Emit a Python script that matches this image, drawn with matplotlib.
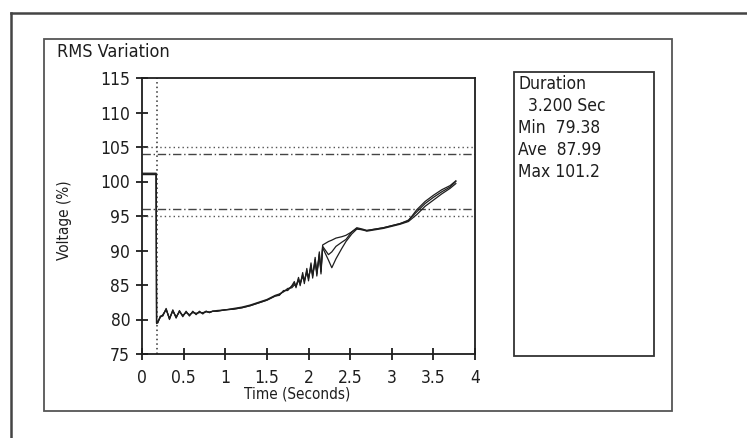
import matplotlib
matplotlib.use("Agg")
import matplotlib.pyplot as plt
from matplotlib.patches import Rectangle
from matplotlib.lines import Line2D

# RMS variation record, three phases sharing one time base
time_s = [0.00, 0.17, 0.175,
          0.19, 0.22, 0.25, 0.29, 0.33, 0.37, 0.41, 0.45, 0.49, 0.53, 0.57, 0.61,
          0.65, 0.69, 0.73, 0.77, 0.81, 0.85,
          0.90,
          1.00, 1.10, 1.20, 1.30, 1.40, 1.50, 1.60,
          1.65, 1.70, 1.75, 1.80,
          1.83, 1.85, 1.88, 1.90, 1.93, 1.95, 1.98, 2.00, 2.03, 2.05, 2.08, 2.10,
          2.13, 2.15, 2.17,
          2.24, 2.28, 2.33, 2.40, 2.45, 2.52, 2.58,
          2.65, 2.70, 2.80, 2.90, 3.00, 3.10, 3.20, 3.30, 3.40, 3.50, 3.60, 3.70, 3.77]

volt_a = [101.2, 101.2, 79.4,
          79.6, 80.4, 80.6, 81.5, 80.1, 81.3, 80.3, 81.2, 80.5, 81.1, 80.6, 81.1,
          80.8, 81.1, 80.9, 81.2, 81.0, 81.2,
          81.2,
          81.4, 81.5, 81.7, 82.0, 82.4, 82.8, 83.4,
          83.6, 84.1, 84.3, 84.8,
          85.3, 84.8, 85.9, 85.1, 86.5, 85.5, 87.1, 85.9, 87.9, 86.3, 88.7, 86.6,
          89.5, 86.9, 90.8,
          91.3, 91.5, 91.8, 92.0, 92.2, 92.7, 93.3,
          93.1, 92.9, 93.1, 93.3, 93.6, 93.9, 94.4, 95.6, 96.8, 97.7, 98.5, 99.2, 100.0]

volt_b = [101.0, 101.0, 79.5,
          79.7, 80.3, 80.7, 81.4, 80.2, 81.2, 80.4, 81.1, 80.6, 81.0, 80.7, 81.0,
          80.9, 81.0, 81.0, 81.1, 81.1, 81.2,
          81.3,
          81.4, 81.6, 81.8, 82.1, 82.5, 82.9, 83.5,
          83.7, 84.0, 84.5, 84.6,
          85.0, 84.9, 85.6, 85.3, 86.2, 85.7, 86.8, 86.1, 87.5, 86.6, 88.3, 86.9,
          89.1, 87.3, 90.4,
          88.6, 87.5, 88.8, 90.3, 91.3, 92.4, 93.1,
          93.0, 92.8, 93.0, 93.2, 93.5, 93.8, 94.2, 95.2, 96.4, 97.3, 98.2, 99.0, 99.7]

volt_c = [101.1, 101.1, 79.5,
          79.5, 80.5, 80.5, 81.6, 80.0, 81.4, 80.2, 81.3, 80.4, 81.2, 80.5, 81.2,
          80.7, 81.2, 80.8, 81.2, 81.0, 81.2,
          81.2,
          81.4, 81.5, 81.7, 82.0, 82.4, 82.8, 83.4,
          83.5, 84.2, 84.2, 84.9,
          85.5, 84.6, 86.1, 84.9, 86.8, 85.2, 87.4, 85.6, 88.2, 86.0, 89.0, 86.3,
          89.8, 86.6, 90.6,
          89.4, 89.8, 90.6, 91.2, 91.6, 92.7, 93.2,
          93.0, 92.9, 93.1, 93.3, 93.6, 93.9, 94.3, 95.9, 97.1, 98.0, 98.8, 99.4, 100.1]

limit_dotted = [105, 95]
limit_dashdot = [104, 96]
event_time = 0.18

x_ticks = [0, 0.5, 1, 1.5, 2, 2.5, 3, 3.5, 4]
x_tick_labels = ["0", "0.5", "1", "1.5", "2", "2.5", "3", "3.5", "4"]
y_ticks = [75, 80, 85, 90, 95, 100, 105, 110, 115]

stats_lines = ["Duration", "  3.200 Sec", "Min  79.38", "Ave  87.99", "Max 101.2"]

W, H = 747, 438
FONT = dict(family="DejaVu Sans", fontstretch="condensed")
INK = "#1e1e1e"

fig = plt.figure(figsize=(W / 100, H / 100), dpi=100)
fig.patch.set_facecolor("white")


def fx(px):
    return px / W


def fy(py):
    return 1 - py / H


# outer page frame
fig.add_artist(Line2D([fx(10.5), fx(10.5)], [fy(13), fy(438)], color="#444", lw=1.8))
fig.add_artist(Line2D([fx(10.5), fx(747)], [fy(13), fy(13)], color="#444", lw=1.8))
# chart panel
fig.add_artist(Rectangle((fx(44), fy(411)), fx(672) - fx(44), fy(39) - fy(411),
                         fill=False, ec="#555", lw=1.3, transform=fig.transFigure))
# stats box
fig.add_artist(Rectangle((fx(514), fy(356)), fx(654) - fx(514), fy(72) - fy(356),
                         fill=False, ec="#333", lw=1.3, transform=fig.transFigure))

ax = fig.add_axes([fx(142), fy(354), fx(475) - fx(142), fy(78) - fy(354)])
ax.set_xlim(0, 4)
ax.set_ylim(75, 115)

for y in limit_dotted:
    ax.axhline(y, color="#555", lw=1.0, ls=(0, (1, 2.2)))
for y in limit_dashdot:
    ax.axhline(y, color="#444", lw=1.0, ls=(0, (6, 2, 1, 2)))
ax.axvline(event_time, color="#333", lw=1.1, ls=(0, (1, 2)))

for volts in (volt_a, volt_b, volt_c):
    ax.plot(time_s, volts, color=INK, lw=0.9)

for s in ax.spines.values():
    s.set_color(INK)
    s.set_linewidth(1.3)

ax.set_xticks(x_ticks)
ax.set_xticklabels(x_tick_labels)
ax.set_yticks(y_ticks)
ax.tick_params(direction="inout", length=9, width=1.3, color=INK,
               labelsize=12.5, labelcolor=INK)
ax.tick_params(axis="x", pad=6)
ax.tick_params(axis="y", pad=4)
for lab in ax.get_xticklabels() + ax.get_yticklabels():
    lab.set_fontstretch("condensed")

fig.text(fx(57), fy(52), "RMS Variation", fontsize=13, color=INK, va="center", ha="left", **FONT)
fig.text(fx(297), fy(394), "Time (Seconds)", fontsize=11, color=INK, va="center", ha="center", **FONT)
fig.text(fx(65), fy(220), "Voltage (%)", fontsize=11, color=INK, va="center", ha="center",
         rotation=90, **FONT)

for i, line in enumerate(stats_lines):
    fig.text(fx(518), fy(84 + 22 * i), line, fontsize=12.5, color=INK, va="center", ha="left", **FONT)

fig.savefig("out.png", dpi=100, facecolor="white")
